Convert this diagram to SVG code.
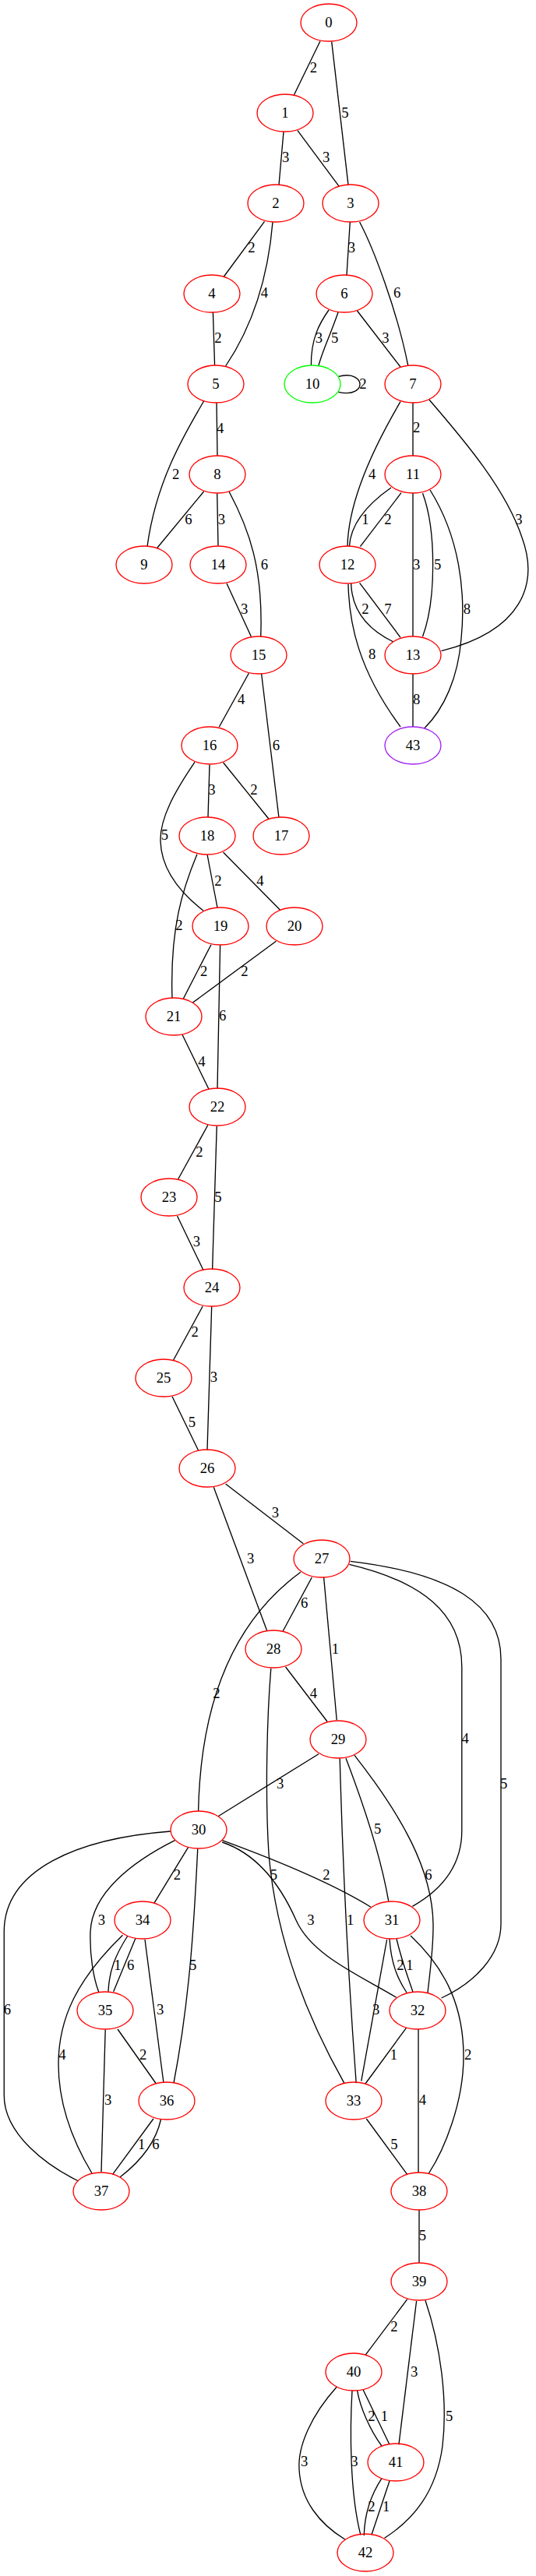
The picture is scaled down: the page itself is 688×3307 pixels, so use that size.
<svg xmlns="http://www.w3.org/2000/svg" width="688" height="3307" viewBox="0 0 688 3307">
<style>
.n ellipse{fill:none;stroke:#ff0000;stroke-width:1.33}
.n.g ellipse{stroke:#00ff00}
.n.p ellipse{stroke:#a020f0}
.n text,.lb text{font-family:"Liberation Serif","Times New Roman",serif;font-size:18.67px;text-anchor:middle;fill:#000}
.e path{fill:none;stroke:#000;stroke-width:1.33}
</style>
<rect width="688" height="3307" fill="#fff"/>
<g id="edges" class="e">
<path d="M411,52.7L377,122.7"/>
<path d="M425.7,53.3L447,237.3"/>
<path d="M364,169.3L358,237.3"/>
<path d="M382,167.7L435.3,239.3"/>
<path d="M339.5,284.3L287.4,355"/>
<path d="M350,285C345,345 330,410 289.6,470"/>
<path d="M449.3,285L445,353.7"/>
<path d="M461.6,285C480,320 510,400 523.7,469"/>
<path d="M273.4,401L275.6,469"/>
<path d="M422,398C410,415 399,435 399.4,469"/>
<path d="M434,401C424,430 414,450 409,469"/>
<path d="M458.5,399L514,471"/>
<path d="M434.4,483.3C455,478 462,488 462,493.3C462,499 455,508 434.4,503.3"/>
<path d="M278,517L279,585"/>
<path d="M530,517L530,585"/>
<path d="M514,515.7C485,565 447,640 446,701.7"/>
<path d="M551,513.3C600,570 650,630 670,690C692,750 670,810 566.6,835.7"/>
<path d="M261.6,515C235,560 200,620 189,701.7"/>
<path d="M261.6,631L201.25,704"/>
<path d="M278.7,633.3L280,700.7"/>
<path d="M294,631C320,680 338,730 334.7,817.3"/>
<path d="M291,749L322.4,817.3"/>
<path d="M502,626C475,645 450,670 448.4,701.7"/>
<path d="M515,632.7L462.4,701.7"/>
<path d="M530,633L530,817"/>
<path d="M542.5,633.3C560,680 560,770 542.5,817.3"/>
<path d="M552,629C590,690 598,760 592,820C588,870 570,910 544.7,935"/>
<path d="M450.6,749C452,790 480,812 505,824"/>
<path d="M461.6,748.3L514,818.3"/>
<path d="M447,750C448,800 460,860 514,933"/>
<path d="M530,865L530,933"/>
<path d="M319.4,864.3L281.3,933.3"/>
<path d="M335.6,865L357.9,1049"/>
<path d="M269,981.7L267,1049"/>
<path d="M286.6,979L344.75,1051"/>
<path d="M250,978.3C225,1015 205,1050 206,1080C207,1115 230,1145 261.2,1169.3"/>
<path d="M266,1097L279,1165"/>
<path d="M252.9,1096.7C235,1140 218,1190 221,1281.7"/>
<path d="M286.6,1094.3L359.6,1168.3"/>
<path d="M271,1212.7L235,1282.7"/>
<path d="M354.4,1208.3L247.2,1287.3"/>
<path d="M282.6,1213.3L279,1397.7"/>
<path d="M234,1328.3L268,1398.3"/>
<path d="M266.9,1444.3L228.4,1514.3"/>
<path d="M278.25,1445.7L272.6,1630"/>
<path d="M227.5,1561L261.2,1631"/>
<path d="M260.3,1676.7L222.25,1746.7"/>
<path d="M271.7,1677.3L266,1861.7"/>
<path d="M221,1792.7L254.6,1862"/>
<path d="M289.6,1905L389.4,1981.7"/>
<path d="M274.3,1909.3L342.6,2093.3"/>
<path d="M400.3,2025L363,2094.3"/>
<path d="M415.6,2025L432.25,2208.3"/>
<path d="M385.9,2018.3C315,2070 258,2160 254.6,2325"/>
<path d="M448.4,2008.3C540,2030 592.8,2070 592.8,2140L592.8,2350C592.8,2400 560,2430 529.4,2447.3"/>
<path d="M449.75,2004.3C580,2020 643,2060 643,2130L643,2470C643,2510 610,2545 566.6,2565"/>
<path d="M366.6,2140L420,2210"/>
<path d="M347.8,2141.7C343,2200 340,2300 345,2380C355,2500 400,2600 441.9,2674.3"/>
<path d="M409,2251.7L280,2331.7"/>
<path d="M436.2,2257.3C440,2400 448,2550 457.2,2674.3"/>
<path d="M444,2257.3C468,2320 490,2390 498.75,2440.7"/>
<path d="M455,2253.3C515,2330 555,2400 556,2470C556.5,2500 552,2530 549,2558.3"/>
<path d="M285.25,2362.7C360,2390 430,2420 476,2448.3"/>
<path d="M285.25,2365C330,2380 360,2420 380,2465C400,2510 460,2535 508.8,2564.3"/>
<path d="M241.5,2371.7L197.75,2443.3"/>
<path d="M224.4,2362.7C170,2390 118,2430 116,2480C115,2510 120,2540 126.9,2557.7"/>
<path d="M253.75,2373.3C250,2450 245,2560 223,2674"/>
<path d="M218.75,2351C100,2360 5.25,2400 5.25,2480L5.25,2690C5.25,2740 60,2780 100.6,2800"/>
<path d="M164,2485C148,2510 140,2530 139,2556.7"/>
<path d="M174,2488.3L145.7,2556.7"/>
<path d="M157.5,2484.3C100,2540 75,2590 75,2650C75,2710 100,2760 118,2790"/>
<path d="M186,2490L210,2674"/>
<path d="M151,2605L200.4,2675"/>
<path d="M135.2,2605.7L130,2788.3"/>
<path d="M196.9,2720L144.4,2791.7"/>
<path d="M206.5,2721C200,2750 180,2775 154,2795"/>
<path d="M500,2489C502,2520 510,2540 522,2558"/>
<path d="M509,2489C515,2515 524,2540 530,2557"/>
<path d="M496.6,2490L463.75,2671.7"/>
<path d="M527,2485C575,2530 595,2580 595,2640C595,2700 570,2760 550.4,2790"/>
<path d="M521.5,2603.3L469,2675"/>
<path d="M537,2605L537,2789"/>
<path d="M470.3,2720L522.8,2791.7"/>
<path d="M538,2837L538,2905"/>
<path d="M522.8,2951.7L469,3023.3"/>
<path d="M534.6,2954L511.9,3138.3"/>
<path d="M546,2953.3C565,3010 575,3080 568,3140C560,3200 530,3235 493.5,3258.3"/>
<path d="M458.5,3068.3C462,3090 475,3120 490,3140"/>
<path d="M466,3067.7L500,3138.3"/>
<path d="M432.25,3064.3C400,3100 382,3140 384,3170C386,3210 410,3240 442.75,3260"/>
<path d="M452,3069C449,3120 449,3200 462.9,3254.3"/>
<path d="M490,3181.7C478,3200 468,3225 467.25,3255"/>
<path d="M500,3185L476.9,3254.3"/>
</g>
<g id="edge-labels" class="lb">
<text x="402.5" y="93.3">2</text>
<text x="443" y="151">5</text>
<text x="366.6" y="208.3">3</text>
<text x="418.7" y="208.3">3</text>
<text x="322.9" y="324.3">2</text>
<text x="339.5" y="382">4</text>
<text x="451.5" y="324.3">3</text>
<text x="509.7" y="382">6</text>
<text x="280" y="440.3">2</text>
<text x="409.5" y="440.3">3</text>
<text x="429.6" y="440.3">5</text>
<text x="495" y="440.3">3</text>
<text x="466" y="499.3">2</text>
<text x="282.6" y="556">4</text>
<text x="534.6" y="555">2</text>
<text x="477.75" y="615">4</text>
<text x="666" y="672.7">3</text>
<text x="225.75" y="615">2</text>
<text x="242" y="672.7">6</text>
<text x="284.4" y="672.7">3</text>
<text x="339.5" y="731">6</text>
<text x="313.7" y="787.7">3</text>
<text x="469" y="672.7">1</text>
<text x="497.9" y="672.7">2</text>
<text x="534.6" y="731">3</text>
<text x="561.75" y="731">5</text>
<text x="599.4" y="787.7">8</text>
<text x="469" y="787.7">2</text>
<text x="497.9" y="787.7">7</text>
<text x="477.75" y="846">8</text>
<text x="534.6" y="903.7">8</text>
<text x="309.75" y="903.7">4</text>
<text x="354.4" y="962.7">6</text>
<text x="272" y="1020.3">3</text>
<text x="326" y="1020.3">2</text>
<text x="211.3" y="1078.3">5</text>
<text x="280" y="1137">2</text>
<text x="230" y="1194.3">2</text>
<text x="333.8" y="1136.7">4</text>
<text x="261.6" y="1252.7">2</text>
<text x="314" y="1252.7">2</text>
<text x="285.7" y="1310">6</text>
<text x="259" y="1368.7">4</text>
<text x="256" y="1485">2</text>
<text x="280" y="1542.7">5</text>
<text x="252.4" y="1600.3">3</text>
<text x="250.25" y="1716">2</text>
<text x="274.3" y="1774.3">3</text>
<text x="246.3" y="1832">5</text>
<text x="353.5" y="1948.3">3</text>
<text x="321.6" y="2007">3</text>
<text x="390.7" y="2064.3">6</text>
<text x="430.5" y="2122.7">1</text>
<text x="277.8" y="2180.3">2</text>
<text x="597.2" y="2238.3">4</text>
<text x="646.6" y="2296">5</text>
<text x="402.5" y="2180.3">4</text>
<text x="351.3" y="2412.7">5</text>
<text x="359.6" y="2296">3</text>
<text x="449.75" y="2471">1</text>
<text x="484.75" y="2354.3">5</text>
<text x="550" y="2412.7">6</text>
<text x="419" y="2412.7">2</text>
<text x="399" y="2471">3</text>
<text x="227.5" y="2412.7">2</text>
<text x="130.4" y="2471">3</text>
<text x="247.6" y="2528.7">5</text>
<text x="9.5" y="2586">6</text>
<text x="151" y="2528.7">1</text>
<text x="167.6" y="2528.7">6</text>
<text x="80" y="2644.3">4</text>
<text x="205.6" y="2586">3</text>
<text x="183.75" y="2644.3">2</text>
<text x="138.7" y="2701.7">3</text>
<text x="181.6" y="2759">1</text>
<text x="200" y="2759">6</text>
<text x="514" y="2528.7">2</text>
<text x="526" y="2528.7">1</text>
<text x="482.6" y="2586">3</text>
<text x="600.7" y="2644.3">2</text>
<text x="505.3" y="2644.3">1</text>
<text x="542.5" y="2701.7">4</text>
<text x="506" y="2759">5</text>
<text x="542.5" y="2876">5</text>
<text x="506" y="2992.7">2</text>
<text x="531.6" y="3051">3</text>
<text x="576.6" y="3107.7">5</text>
<text x="476.9" y="3108.3">2</text>
<text x="493.5" y="3108.3">1</text>
<text x="390.7" y="3166">3</text>
<text x="455" y="3166">3</text>
<text x="476.9" y="3224.3">2</text>
<text x="495.7" y="3224.3">1</text>
</g>
<g id="node0" class="n"><ellipse cx="422" cy="29" rx="36" ry="24"/><text x="422" y="35">0</text></g>
<g id="node1" class="n"><ellipse cx="366" cy="145" rx="36" ry="24"/><text x="366" y="151">1</text></g>
<g id="node2" class="n"><ellipse cx="354" cy="261" rx="36" ry="24"/><text x="354" y="267">2</text></g>
<g id="node3" class="n"><ellipse cx="450" cy="261" rx="36" ry="24"/><text x="450" y="267">3</text></g>
<g id="node4" class="n"><ellipse cx="272" cy="377" rx="36" ry="24"/><text x="272" y="383">4</text></g>
<g id="node6" class="n"><ellipse cx="442" cy="377" rx="36" ry="24"/><text x="442" y="383">6</text></g>
<g id="node5" class="n"><ellipse cx="277" cy="493" rx="36" ry="24"/><text x="277" y="499">5</text></g>
<g id="node10" class="n g"><ellipse cx="401" cy="493" rx="36" ry="24"/><text x="401" y="499">10</text></g>
<g id="node7" class="n"><ellipse cx="530" cy="493" rx="36" ry="24"/><text x="530" y="499">7</text></g>
<g id="node8" class="n"><ellipse cx="279" cy="609" rx="36" ry="24"/><text x="279" y="615">8</text></g>
<g id="node11" class="n"><ellipse cx="530" cy="609" rx="36" ry="24"/><text x="530" y="615">11</text></g>
<g id="node9" class="n"><ellipse cx="185" cy="725" rx="36" ry="24"/><text x="185" y="731">9</text></g>
<g id="node14" class="n"><ellipse cx="280" cy="725" rx="36" ry="24"/><text x="280" y="731">14</text></g>
<g id="node12" class="n"><ellipse cx="446" cy="725" rx="36" ry="24"/><text x="446" y="731">12</text></g>
<g id="node15" class="n"><ellipse cx="332" cy="841" rx="36" ry="24"/><text x="332" y="847">15</text></g>
<g id="node13" class="n"><ellipse cx="530" cy="841" rx="36" ry="24"/><text x="530" y="847">13</text></g>
<g id="node16" class="n"><ellipse cx="269" cy="957" rx="36" ry="24"/><text x="269" y="963">16</text></g>
<g id="node43" class="n p"><ellipse cx="530" cy="957" rx="36" ry="24"/><text x="530" y="963">43</text></g>
<g id="node18" class="n"><ellipse cx="266" cy="1073" rx="36" ry="24"/><text x="266" y="1079">18</text></g>
<g id="node17" class="n"><ellipse cx="361" cy="1073" rx="36" ry="24"/><text x="361" y="1079">17</text></g>
<g id="node19" class="n"><ellipse cx="283" cy="1189" rx="36" ry="24"/><text x="283" y="1195">19</text></g>
<g id="node20" class="n"><ellipse cx="378" cy="1189" rx="36" ry="24"/><text x="378" y="1195">20</text></g>
<g id="node21" class="n"><ellipse cx="223" cy="1305" rx="36" ry="24"/><text x="223" y="1311">21</text></g>
<g id="node22" class="n"><ellipse cx="279" cy="1421" rx="36" ry="24"/><text x="279" y="1427">22</text></g>
<g id="node23" class="n"><ellipse cx="217" cy="1537" rx="36" ry="24"/><text x="217" y="1543">23</text></g>
<g id="node24" class="n"><ellipse cx="272" cy="1653" rx="36" ry="24"/><text x="272" y="1659">24</text></g>
<g id="node25" class="n"><ellipse cx="210" cy="1769" rx="36" ry="24"/><text x="210" y="1775">25</text></g>
<g id="node26" class="n"><ellipse cx="266" cy="1885" rx="36" ry="24"/><text x="266" y="1891">26</text></g>
<g id="node27" class="n"><ellipse cx="413" cy="2001" rx="36" ry="24"/><text x="413" y="2007">27</text></g>
<g id="node28" class="n"><ellipse cx="351" cy="2117" rx="36" ry="24"/><text x="351" y="2123">28</text></g>
<g id="node29" class="n"><ellipse cx="434" cy="2233" rx="36" ry="24"/><text x="434" y="2239">29</text></g>
<g id="node30" class="n"><ellipse cx="255" cy="2349" rx="36" ry="24"/><text x="255" y="2355">30</text></g>
<g id="node34" class="n"><ellipse cx="183" cy="2465" rx="36" ry="24"/><text x="183" y="2471">34</text></g>
<g id="node31" class="n"><ellipse cx="503" cy="2465" rx="36" ry="24"/><text x="503" y="2471">31</text></g>
<g id="node35" class="n"><ellipse cx="135" cy="2581" rx="36" ry="24"/><text x="135" y="2587">35</text></g>
<g id="node32" class="n"><ellipse cx="536" cy="2581" rx="36" ry="24"/><text x="536" y="2587">32</text></g>
<g id="node36" class="n"><ellipse cx="214" cy="2697" rx="36" ry="24"/><text x="214" y="2703">36</text></g>
<g id="node33" class="n"><ellipse cx="454" cy="2697" rx="36" ry="24"/><text x="454" y="2703">33</text></g>
<g id="node37" class="n"><ellipse cx="130" cy="2813" rx="36" ry="24"/><text x="130" y="2819">37</text></g>
<g id="node38" class="n"><ellipse cx="538" cy="2813" rx="36" ry="24"/><text x="538" y="2819">38</text></g>
<g id="node39" class="n"><ellipse cx="538" cy="2929" rx="36" ry="24"/><text x="538" y="2935">39</text></g>
<g id="node40" class="n"><ellipse cx="454" cy="3045" rx="36" ry="24"/><text x="454" y="3051">40</text></g>
<g id="node41" class="n"><ellipse cx="508" cy="3161" rx="36" ry="24"/><text x="508" y="3167">41</text></g>
<g id="node42" class="n"><ellipse cx="469" cy="3277" rx="36" ry="24"/><text x="469" y="3283">42</text></g>
</svg>
